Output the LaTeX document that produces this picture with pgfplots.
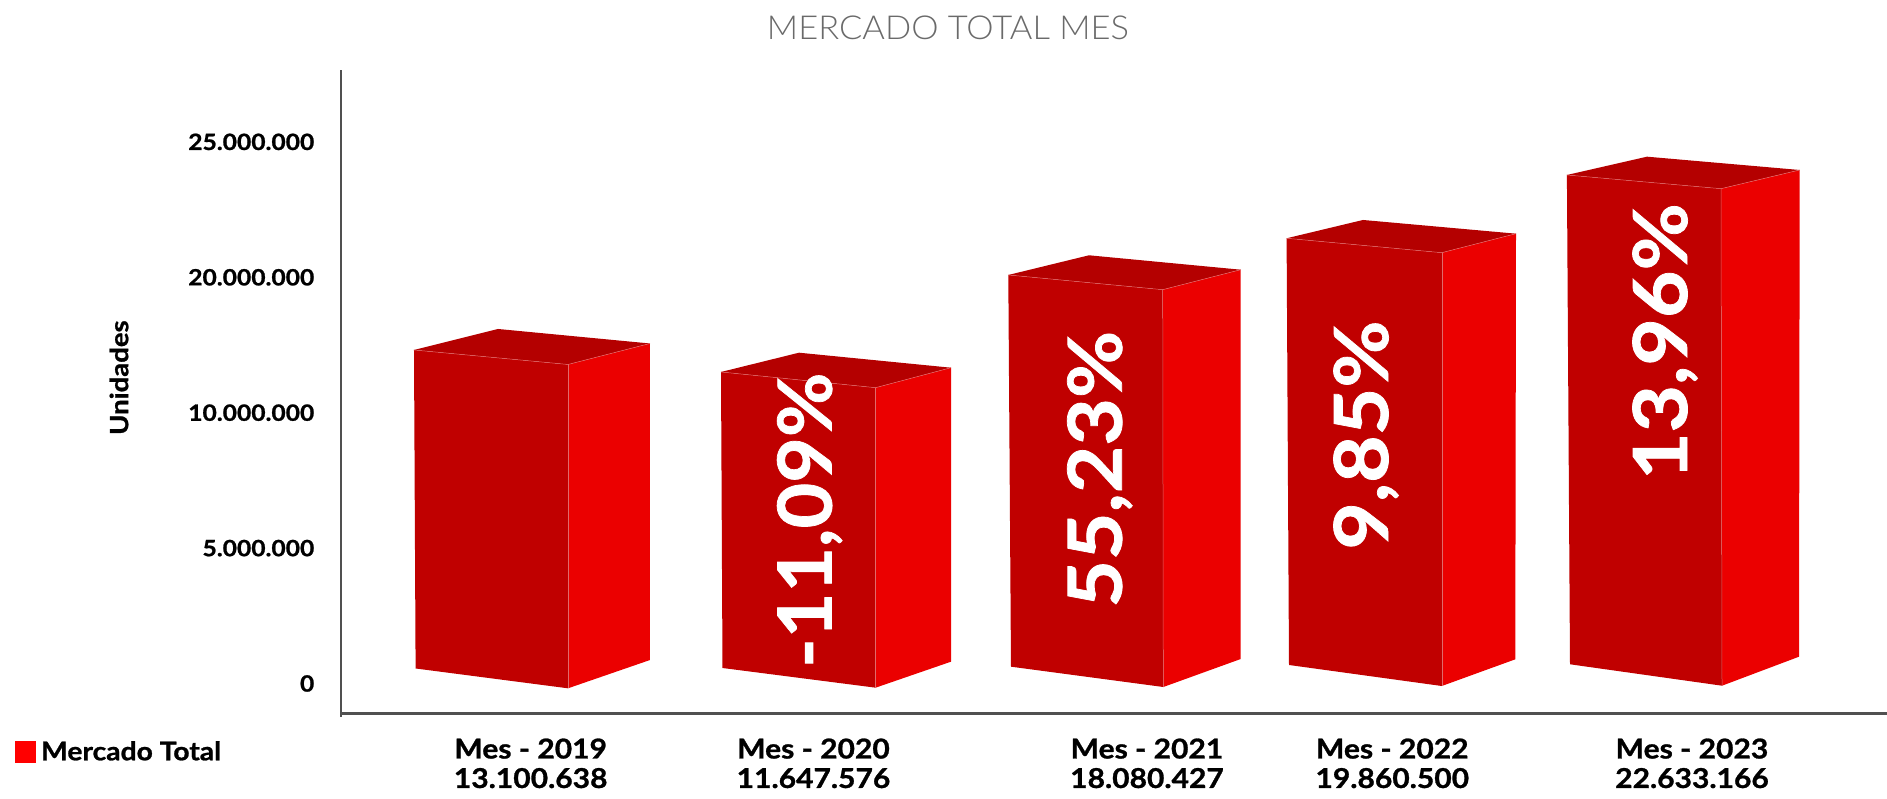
\documentclass[border=0pt]{standalone}
\usepackage{fontspec}
\setmainfont[FakeStretch=1.1,BoldFeatures={FakeBold=1}]{Lato}
\newfontfamily\thinfont[FakeStretch=1.045]{Lato Light}
\usepackage{pgfplots}
\pgfplotsset{compat=1.18}

\definecolor{cfront}{HTML}{C00000}
\definecolor{cside}{HTML}{EB0000}
\definecolor{ctop}{HTML}{B40000}
\definecolor{cseam}{HTML}{E06A6A}
\definecolor{caxis}{HTML}{505050}
\definecolor{ctitle}{HTML}{6A6A6A}

\pgfplotsset{
  front/.style={forget plot, fill=cfront, draw=none},
  side/.style={forget plot, fill=cside, draw=none},
  lid/.style={forget plot, fill=ctop, draw=none},
  seam/.style={forget plot, color=cseam, line width=0.5pt},
}
\tikzset{
  pct/.style={rotate=90, anchor=base, text=white, inner sep=0pt,
    font=\bfseries\fontsize{74.6}{76}\selectfont},
}

\begin{document}
\begin{tikzpicture}
% page is 1887x798, 1pt = 1 reference pixel; axis corner sits at (341.5,713.3)
\useasboundingbox (-341.5pt,-84.7pt) rectangle (1545.5pt,713.3pt);
\begin{axis}[
  scale only axis,
  width=1545.5pt,
  height=643.3pt,
  xmin=341.5, xmax=1887,
  ymin=-1.145, ymax=22.61,
  clip=false,
  axis x line=bottom,
  axis y line=left,
  x axis line style={-, color=caxis, line width=3pt},
  y axis line style={-, color=caxis, line width=2pt},
  major tick length=0pt,
  xtick={530.7,813.5,1147,1392.3,1692},
  xticklabels={{Mes - 2019\\13.100.638},{Mes - 2020\\11.647.576},{Mes - 2021\\18.080.427},{Mes - 2022\\19.860.500},{Mes - 2023\\22.633.166}},
  xticklabel style={align=center, inner sep=0pt, yshift=-25pt,
    font=\bfseries\fontsize{27.3}{29.5}\selectfont},
  ytick={0,5,10,15,20},
  yticklabels={0,5.000.000,10.000.000,20.000.000,25.000.000},
  yticklabel style={inner sep=0pt, xshift=-27pt, yshift=-1.2pt,
    font=\bfseries\fontsize{22.4}{23}\selectfont},
  title={\thinfont MERCADO TOTAL MES},
  title style={at={(axis cs:948,23.93)}, anchor=center, inner sep=0pt,
    text=ctitle, font=\fontsize{33}{33}\selectfont},
  ylabel={Unidades},
  ylabel style={at={(axis cs:119,11.25)}, anchor=center, rotate=0, inner sep=0pt,
    font=\bfseries\fontsize{25}{25}\selectfont},
  legend style={at={(axis cs:15,-2.555)}, anchor=west, draw=none, fill=none,
    inner sep=0pt, font=\bfseries\fontsize{25.7}{26}\selectfont},
  legend cell align=left,
]
% Mes - 2019
\addplot[lid] coordinates {(414,12.271) (498,13.047) (650,12.511) (568,11.736)} -- cycle;
\addplot[side] coordinates {(568,11.736) (650,12.511) (650,0.823) (568,-0.222)} -- cycle;
\addplot[front] coordinates {(414,12.271) (568,11.736) (568,-0.222) (415.6,0.510)} -- cycle;
\addplot[seam] coordinates {(414,12.271) (568,11.736) (650,12.511)};
\addplot[seam] coordinates {(568,11.736) (568,-0.222)};
% Mes - 2020
\addplot[lid] coordinates {(721,11.459) (799,12.171) (951,11.617) (875.6,10.879)} -- cycle;
\addplot[side] coordinates {(875.6,10.879) (951,11.617) (951,0.761) (875.6,-0.199)} -- cycle;
\addplot[front] coordinates {(721,11.459) (875.6,10.879) (875.6,-0.199) (722.5,0.528)} -- cycle;
\addplot[seam] coordinates {(721,11.459) (875.6,10.879) (951,11.617)};
\addplot[seam] coordinates {(875.6,10.879) (875.6,-0.199)};
% Mes - 2021
\addplot[lid] coordinates {(1008.3,15.041) (1089,15.768) (1240.7,15.236) (1162.7,14.498)} -- cycle;
\addplot[side] coordinates {(1162.7,14.498) (1240.7,15.236) (1240.7,0.860) (1163.3,-0.174)} -- cycle;
\addplot[front] coordinates {(1008.3,15.041) (1162.7,14.498) (1163.3,-0.174) (1011,0.576)} -- cycle;
\addplot[seam] coordinates {(1008.3,15.041) (1162.7,14.498) (1240.7,15.236)};
\addplot[seam] coordinates {(1162.7,14.498) (1163.3,-0.174)};
% Mes - 2022
\addplot[lid] coordinates {(1286.6,16.396) (1363,17.072) (1516,16.566) (1441.8,15.864)} -- cycle;
\addplot[side] coordinates {(1441.8,15.864) (1516,16.566) (1515.3,0.849) (1441.8,-0.137)} -- cycle;
\addplot[front] coordinates {(1286.6,16.396) (1441.8,15.864) (1441.8,-0.137) (1289,0.639)} -- cycle;
\addplot[seam] coordinates {(1286.6,16.396) (1441.8,15.864) (1516,16.566)};
\addplot[seam] coordinates {(1441.8,15.864) (1441.8,-0.137)};
% Mes - 2023
\addplot[lid] coordinates {(1566.9,18.733) (1647,19.409) (1799.7,18.918) (1721,18.227)} -- cycle;
\addplot[side] coordinates {(1721,18.227) (1799.7,18.918) (1799,0.945) (1722,-0.126)} -- cycle;
\addplot[front] coordinates {(1566.9,18.733) (1721,18.227) (1722,-0.126) (1570,0.665)} -- cycle;
\addplot[seam] coordinates {(1566.9,18.733) (1721,18.227) (1799.7,18.918)};
\addplot[seam] coordinates {(1721,18.227) (1722,-0.126)};

% little stub of the y axis under the x axis
\addplot[forget plot, color=caxis, line width=2pt] coordinates {(341.5,-1.145) (341.5,-1.27)};

\node[pct] at (axis cs:831.6,5.99) {\scalebox{0.96}[1]{-11,09\%}};
\node[pct] at (axis cs:1121.7,7.87) {55,23\%};
\node[pct] at (axis cs:1388,9.13) {9,85\%};
\node[pct] at (axis cs:1687,12.58) {13,96\%};

\addlegendimage{legend image code/.code={\fill[red] (0pt,-10.5pt) rectangle (20pt,10.5pt); \path (23.5pt,0pt);}}
\addlegendentry{Mercado Total}
\end{axis}
\end{tikzpicture}
\end{document}
